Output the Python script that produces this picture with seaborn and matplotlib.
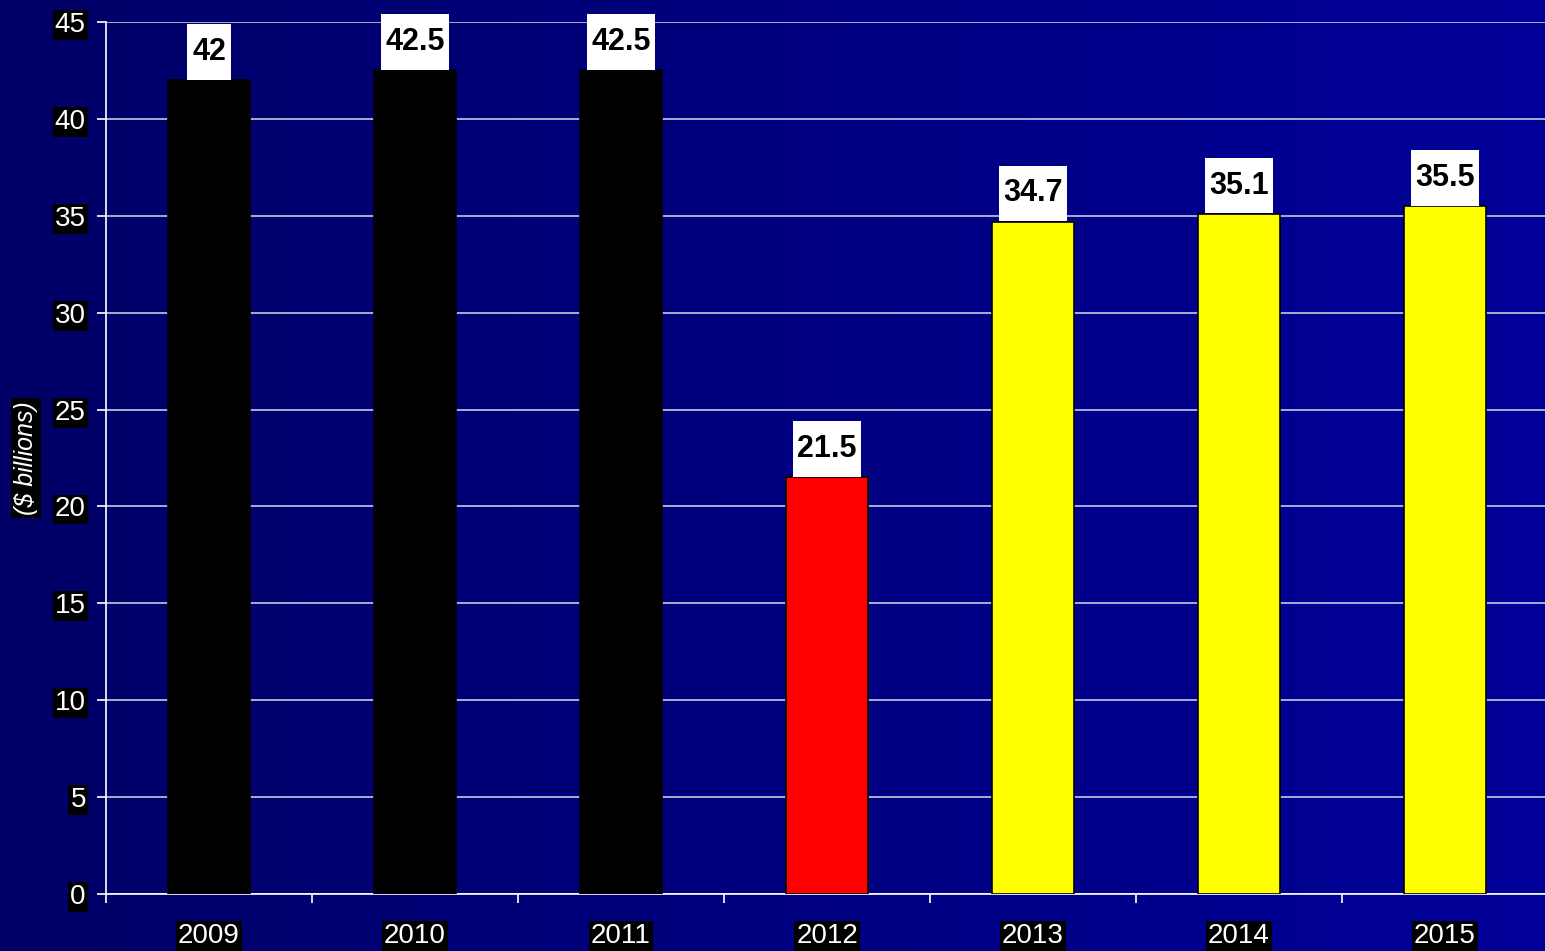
import numpy as np
import pandas as pd
import matplotlib
matplotlib.use("Agg")
import matplotlib.pyplot as plt
from matplotlib.path import Path
import seaborn as sns

# Werte
jahre = ["2009", "2010", "2011", "2012", "2013", "2014", "2015"]
werte = [42, 42.5, 42.5, 21.5, 34.7, 35.1, 35.5]
farben = ["#000000", "#000000", "#000000", "#ff0000", "#ffff00", "#ffff00", "#ffff00"]
beschriftung = ["42", "42.5", "42.5", "21.5", "34.7", "35.1", "35.5"]
y_ticks = [0, 5, 10, 15, 20, 25, 30, 35, 40, 45]

df = pd.DataFrame({"Jahr": jahre, "Wert": werte})

sns.set_style("white")
plt.rcParams["font.family"] = ["Liberation Sans", "DejaVu Sans"]


# Kasten mit unterschiedlichem Rand (horizontal schmal, vertikal hoch)
def kasten(x0, y0, w, h, mutation_size):
    px = 0.15 * mutation_size
    py = 0.42 * mutation_size
    x0, y0, x1, y1 = x0 - px, y0 - py, x0 + w + px, y0 + h + py
    return Path([(x0, y0), (x1, y0), (x1, y1), (x0, y1), (x0, y0)], closed=True)


fig = plt.figure(figsize=(15.45, 9.51), dpi=100)

# Hintergrund mit Farbverlauf
bg = fig.add_axes([0, 0, 1, 1], zorder=-1)
verlauf = np.linspace(0, 1, 256).reshape(1, -1)
cmap_bg = matplotlib.colors.LinearSegmentedColormap.from_list("bg", ["#000066", "#000099"])
bg.imshow(verlauf, aspect="auto", cmap=cmap_bg, extent=[0, 1, 0, 1])
bg.set_axis_off()

ax = fig.add_axes([106 / 1545, 57 / 951, 1442 / 1545, 872 / 951])
ax.patch.set_alpha(0)

sns.barplot(data=df, x="Jahr", y="Wert", hue="Jahr", palette=farben, legend=False,
            width=0.4, edgecolor="black", linewidth=1.2, saturation=1, ax=ax, zorder=3)

ax.set_ylim(0, 45)
ax.set_xlim(-0.5, 6.5)
ax.set_yticks(y_ticks)
ax.yaxis.grid(True, color="#c8c8e0", linewidth=1.2, zorder=0)
ax.set_axisbelow(True)

for s in ["top", "right"]:
    ax.spines[s].set_visible(False)
for s in ["left", "bottom"]:
    ax.spines[s].set_color("white")
    ax.spines[s].set_linewidth(1.2)

ax.tick_params(axis="y", colors="white", labelsize=20, length=6.5, width=1.2, direction="out", left=True, pad=8)
ax.tick_params(axis="x", which="major", colors="white", labelsize=20, length=0, pad=21)
ax.set_xticks(np.arange(-0.5, 6.5, 1), minor=True)
ax.tick_params(axis="x", which="minor", colors="white", length=6.5, width=1.2, direction="out", bottom=True)

for lab in ax.get_yticklabels() + ax.get_xticklabels():
    lab.set_bbox(dict(facecolor="black", edgecolor="none", pad=1.5))

ax.set_xlabel("")
ax.set_ylabel("($ billions)", color="white", fontsize=18, style="italic", labelpad=12,
              bbox=dict(facecolor="black", edgecolor="none", pad=2))

for i, (w, t) in enumerate(zip(werte, beschriftung)):
    ax.annotate(t, (i, w), xytext=(0, 9.5), textcoords="offset points", ha="center", va="bottom",
                fontsize=22, fontweight="bold", color="black", zorder=5, annotation_clip=False,
                bbox=dict(boxstyle=kasten, facecolor="white", edgecolor="none"))

fig.savefig("out.png", dpi=100)
